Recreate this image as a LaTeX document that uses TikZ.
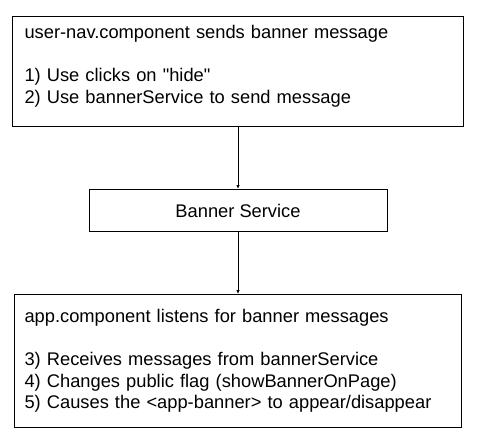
\documentclass[tikz,border=0pt]{standalone}
\usepackage{fontspec}
\setmainfont{Liberation Sans}
\usetikzlibrary{arrows.meta,positioning}

\begin{document}
\begin{tikzpicture}[
            x=1pt, y=1pt,
            textbox/.style={
                draw,
                line width=1pt,
                align=left,
                text width=427pt,
                font=\fontsize{18.3}{21.5}\selectfont
            },
            service/.style={
                draw,
                line width=1pt,
                minimum width=298pt,
                minimum height=42pt,
                font=\fontsize{18.3}{21.5}\selectfont
            },
            flow/.style={
                -{Latex[length=4pt,width=3.5pt]},
                line width=0.8pt
            },
            node distance=62pt
        ]

            \useasboundingbox (0,0) rectangle (478,-441);

            % --- Sender ---
            \node[textbox, inner xsep=12pt, minimum height=110pt, anchor=north west]
                (sender) at (12,-16)
                {user-nav.component sends banner message\\[21.5pt]
                 1) Use clicks on \textquotedbl hide\textquotedbl\\
                 2) Use bannerService to send message\\[-7pt]\mbox{}};

            % --- Service ---
            \node[service, below=of sender] (service) {Banner Service};

            % --- Listener ---
            \node[textbox, inner xsep=10pt, minimum height=133pt, below=of service]
                (listener)
                {app.component listens for banner messages\\[21.5pt]
                 3) Receives messages from bannerService\\
                 4) Changes public flag (showBannerOnPage)\\
                 5) Causes the <app-banner> to appear/disappear};

            % --- Arrows ---
            \draw[flow] (sender) -- (service);
            \draw[flow] (service) -- (listener);
        \end{tikzpicture}
\end{document}
